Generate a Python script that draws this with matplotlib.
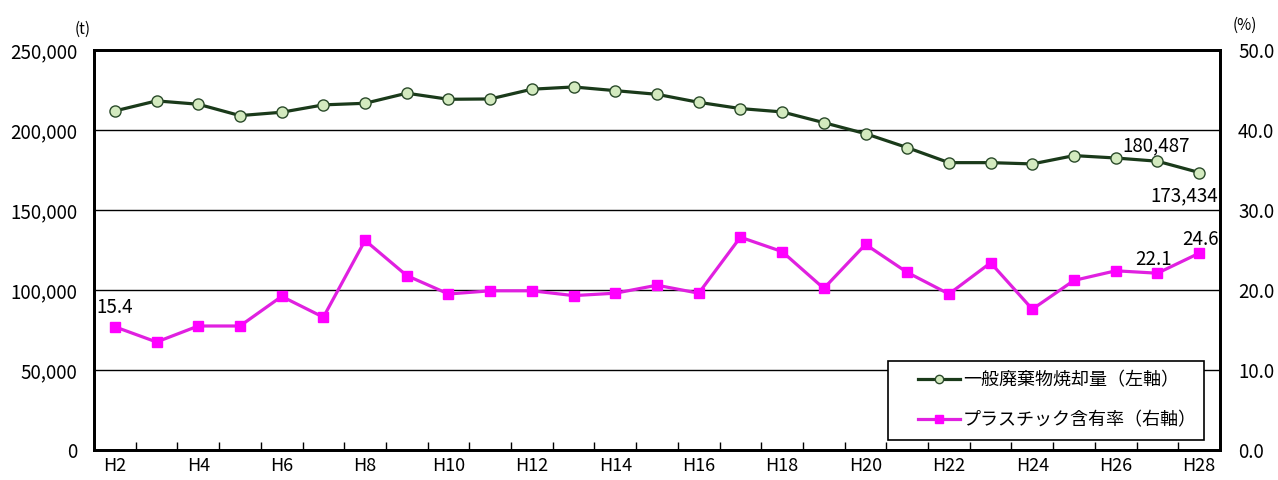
import matplotlib.pyplot as plt
from matplotlib.patches import Rectangle
import numpy as np

plt.rcParams['font.family'] = ['Noto Sans CJK JP', 'DejaVu Sans']

years = ['H%d' % i for i in range(2, 29)]
incineration = [211900, 218200, 216100, 209000, 211100, 215700, 216700, 223000, 219200, 219400,
                225500, 226900, 224600, 222300, 217300, 213400, 211300, 204600, 197700, 189000,
                179600, 179600, 178800, 184000, 182500, 180487, 173434]
plastic = [15.4, 13.5, 15.5, 15.5, 19.2, 16.6, 26.2, 21.8, 19.5, 19.9,
           19.9, 19.3, 19.6, 20.6, 19.6, 26.6, 24.8, 20.2, 25.7, 22.2,
           19.5, 23.4, 17.6, 21.2, 22.4, 22.1, 24.6]

fig = plt.figure(figsize=(12.78, 4.8), dpi=100)
ax = fig.add_axes([94 / 1278, 30 / 480, 1126 / 1278, 400 / 480])
ax2 = ax.twinx()

x = np.arange(len(years))
l1, = ax.plot(x, incineration, color='#1a3a1a', lw=2.3, marker='o', ms=8,
              mfc='#d3eabf', mec='#2a4a2a', mew=1.0, zorder=3,
              label='一般廃棄物焼却量（左軸）')
l2, = ax2.plot(x, plastic, color='#e020e0', lw=2.3, marker='s', ms=6.5,
               mfc='#ff00ff', mec='#ff00ff', zorder=3,
               label='プラスチック含有率（右軸）')

ax.set_xlim(-0.5, len(years) - 0.5)
ax.set_ylim(0, 250000)
ax2.set_ylim(0, 50)
ax.set_yticks(np.arange(0, 250001, 50000))
ax.set_yticklabels(['{:,}'.format(v) for v in range(0, 250001, 50000)], fontsize=13.5)
ax2.set_yticks(np.arange(0, 51, 10))
ax2.set_yticklabels(['%.1f' % v for v in range(0, 51, 10)], fontsize=13.5)
ax.tick_params(axis='y', length=0, pad=12)
ax2.tick_params(axis='y', length=0, pad=13)

ax.set_xticks(x[::2])
ax.set_xticklabels(years[::2], fontsize=13)
ax.set_xticks(np.arange(0.5, len(years) - 1, 1), minor=True)
ax.tick_params(axis='x', which='major', length=0, pad=5)
ax.tick_params(axis='x', which='minor', direction='in', length=6, width=1)

ax.grid(axis='y', color='black', lw=1)
ax.set_axisbelow(True)
for sp in list(ax.spines.values()) + list(ax2.spines.values()):
    sp.set_linewidth(2)

ax.text(-0.01, 1.03, '(t)', transform=ax.transAxes, fontsize=11, ha='center', va='bottom')
ax.text(1.022, 1.04, '(%)', transform=ax.transAxes, fontsize=11, ha='center', va='bottom')

# data labels
ax2.annotate('15.4', (0, plastic[0]), xytext=(-13, 10), textcoords='offset points', fontsize=13.5)
ax2.annotate('22.1', (25, plastic[25]), xytext=(-16, 6), textcoords='offset points', fontsize=13.5)
ax2.annotate('24.6', (26, plastic[26]), xytext=(-12, 6), textcoords='offset points', fontsize=13.5)
ax.annotate('180,487', (25, incineration[25]), xytext=(-25, 7), textcoords='offset points', fontsize=13.5)
ax.annotate('173,434', (26, incineration[26]), xytext=(-35, -21), textcoords='offset points', fontsize=13.5)

# legend frame (Excel-style, wide padding)
ax2.add_patch(Rectangle(((888 - 94) / 1126, 10 / 400), 316 / 1126, 79 / 400,
                        transform=ax2.transAxes, facecolor='white', edgecolor='black',
                        lw=1.2, zorder=4))
leg = ax2.legend(handles=[l1, l2], loc='center left',
                 bbox_to_anchor=((918 - 94) / 1126, 49.5 / 400),
                 fontsize=13, frameon=False, borderpad=0, borderaxespad=0,
                 handlelength=2.3, labelspacing=1.2, handletextpad=0.2)
leg.set_zorder(5)
for h in leg.legend_handles:
    h.set_markersize(6)

fig.savefig('out.png', dpi=100, facecolor='white')
